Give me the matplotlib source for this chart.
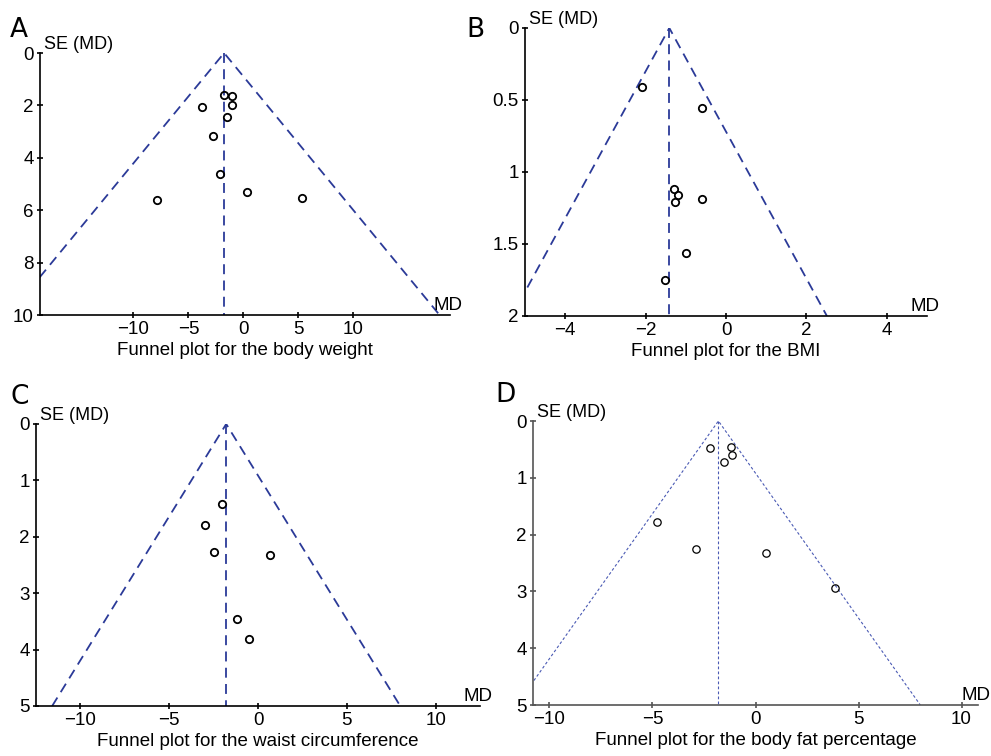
import numpy as np
import matplotlib.pyplot as plt

plt.rcParams['font.family'] = ['Liberation Sans', 'DejaVu Sans']

# panel A: body weight
md_a = [-1.75, -1.04, -3.80, -1.04, -1.50, -2.73, -2.12, -7.88, 0.34, 5.37]
se_a = [1.59, 1.63, 2.08, 1.97, 2.45, 3.16, 4.61, 5.61, 5.32, 5.53]
# panel B: BMI
md_b = [-2.09, -0.59, -1.30, -1.19, -1.26, -0.59, -1.00, -1.51]
se_b = [0.41, 0.556, 1.12, 1.16, 1.21, 1.19, 1.56, 1.75]
# panel C: waist circumference
md_c = [-2.01, -3.01, -2.50, 0.68, -1.18, -0.51]
se_c = [1.41, 1.79, 2.27, 2.32, 3.46, 3.82]
# panel D: body fat percentage
md_d = [-2.23, -1.17, -1.12, -1.51, -4.79, -2.91, 0.50, 3.85]
se_d = [0.48, 0.45, 0.60, 0.72, 1.78, 2.26, 2.33, 2.94]

pooled = [-1.75, -1.41, -1.79, -1.80]
letters = ['A', 'B', 'C', 'D']
titles = ['Funnel plot for the body weight', 'Funnel plot for the BMI',
          'Funnel plot for the waist circumference',
          'Funnel plot for the body fat percentage']
xticks = [[-10, -5, 0, 5, 10], [-4, -2, 0, 2, 4],
          [-10, -5, 0, 5, 10], [-10, -5, 0, 5, 10]]
yticks = [[0, 2, 4, 6, 8, 10], [0, 0.5, 1, 1.5, 2],
          [0, 1, 2, 3, 4, 5], [0, 1, 2, 3, 4, 5]]
ytick_labels = [['0', '2', '4', '6', '8', '10'], ['0', '0.5', '1', '1.5', '2'],
                ['0', '1', '2', '3', '4', '5'], ['0', '1', '2', '3', '4', '5']]
xlims = [(-18.5, 18.8), (-5.0, 5.0), (-12.5, 12.5), (-10.8, 10.8)]
ymaxs = [10, 2, 5, 5]

W, H = 991, 756
boxes = [(40, 450, 53, 315), (525, 927, 28, 316),
         (36, 480, 424, 706), (533, 978, 421, 705)]
letter_pos = [(10, 17), (466, 17), (10, 384), (495, 382)]

fig = plt.figure(figsize=(W / 100, H / 100), dpi=100)

data = [(md_a, se_a), (md_b, se_b), (md_c, se_c), (md_d, se_d)]
for i in range(4):
    l, r, t, b = boxes[i]
    ax = fig.add_axes([l / W, 1 - b / H, (r - l) / W, (b - t) / H])
    md, se = data[i]
    m = pooled[i]
    ymax = ymaxs[i]
    if i == 3:
        lc, lw, dash, axc, mew = '#4a5ab4', 0.8, (2.5, 2.0), '#555555', 0.9
    else:
        lc, lw, dash, axc, mew = '#2b3a98', 1.3, (5.5, 3.5), 'black', 1.3

    # funnel (pseudo 95% limits) and pooled estimate
    ax.plot([m - 1.96 * ymax, m, m + 1.96 * ymax], [ymax, 0, ymax],
            color=lc, lw=lw, dashes=dash)
    ax.plot([m, m], [0, ymax], color=lc, lw=lw, dashes=dash)
    ax.plot(md, se, 'o', mfc='none', mec='black', ms=5.3, mew=mew)

    ax.set_xlim(xlims[i])
    ax.set_ylim(ymax, 0)
    ax.set_xticks(xticks[i])
    ax.set_xticklabels([str(v).replace('-', '\u2212') for v in xticks[i]])
    ax.set_yticks(yticks[i])
    ax.set_yticklabels(ytick_labels[i])
    for s in ['top', 'right']:
        ax.spines[s].set_visible(False)
    for s in ['left', 'bottom']:
        ax.spines[s].set_color(axc)
        ax.spines[s].set_linewidth(1.2)
    ax.tick_params(direction='inout', length=5, width=1.2, color=axc,
                   labelsize=13.5, pad=2)
    ax.set_xlabel(titles[i], fontsize=13.5, labelpad=3)
    ax.annotate('SE (MD)', xy=(0, 1), xycoords='axes fraction',
                xytext=(3, 0), textcoords='offset points',
                ha='left', va='bottom', fontsize=13)
    ax.annotate('MD', xy=(1, 0), xycoords='axes fraction',
                xytext=(9, 1), textcoords='offset points',
                ha='right', va='bottom', fontsize=13.5)
    ax.patch.set_alpha(0)

    lx, ly = letter_pos[i]
    fig.text(lx / W, 1 - ly / H, letters[i], ha='left', va='top',
             fontsize=19, family=['DejaVu Sans'])

fig.savefig('out.png', dpi=100)
